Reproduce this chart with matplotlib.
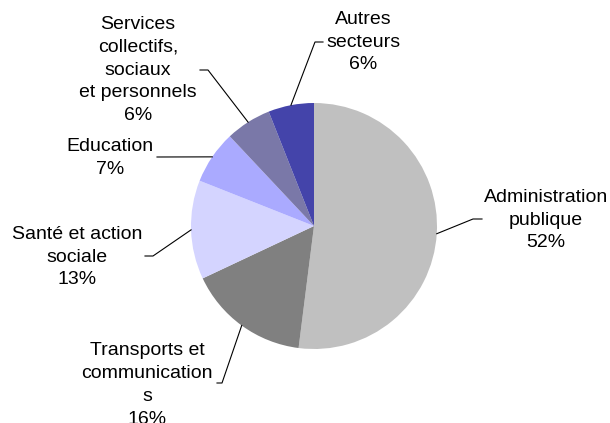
import numpy as np
import matplotlib.pyplot as plt

plt.rcParams['font.family'] = ['Liberation Sans', 'DejaVu Sans']

secteurs = ['Administration\npublique', 'Transports et\ncommunication\ns',
            'Santé et action\nsociale', 'Education',
            'Services\ncollectifs,\nsociaux\net personnels', 'Autres\nsecteurs']
parts = [52, 16, 13, 7, 6, 6]
couleurs = ['#c0c0c0', '#808080', '#d4d4ff', '#aaaaff', '#7a78a8', '#4444aa']

W, H = 610, 423
cx, cy, R = 314, H - 226, 123

# position du texte (centre) et coude de la ligne de rappel, en pixels
txt_pos = [(546, 220), (147, 385), (77, 257), (110, 158), (138, 70), (363, 42)]
coude = [[(473, 219), (482, 219)],
         [(222, 383), (217, 383)],
         [(153, 256), (145, 256)],
         [(157, 157)],
         [(208, 70), (200, 70)],
         [(315, 42), (323, 42)]]

fig = plt.figure(figsize=(W / 100, H / 100), dpi=100)
ax = fig.add_axes([0, 0, 1, 1])

wedges, _ = ax.pie(parts, colors=couleurs, startangle=90, counterclock=False,
                   center=(cx, cy), radius=R, wedgeprops=dict(linewidth=0))

total = sum(parts)
cum = 0
for i, p in enumerate(parts):
    mid = 90 - (cum + p / 2) / total * 360
    cum += p
    x0 = cx + R * np.cos(np.radians(mid))
    y0 = cy + R * np.sin(np.radians(mid))
    xs = [x0] + [c[0] for c in coude[i]]
    ys = [y0] + [H - c[1] for c in coude[i]]
    ax.plot(xs, ys, color='black', lw=0.8)
    tx, ty = txt_pos[i]
    ax.text(tx, H - ty, secteurs[i] + '\n' + str(p) + '%', ha='center', va='center',
            fontsize=14, linespacing=1.45)

ax.set_xlim(0, W)
ax.set_ylim(0, H)
ax.set_aspect('equal')
ax.axis('off')

fig.savefig('out.png', dpi=100)
